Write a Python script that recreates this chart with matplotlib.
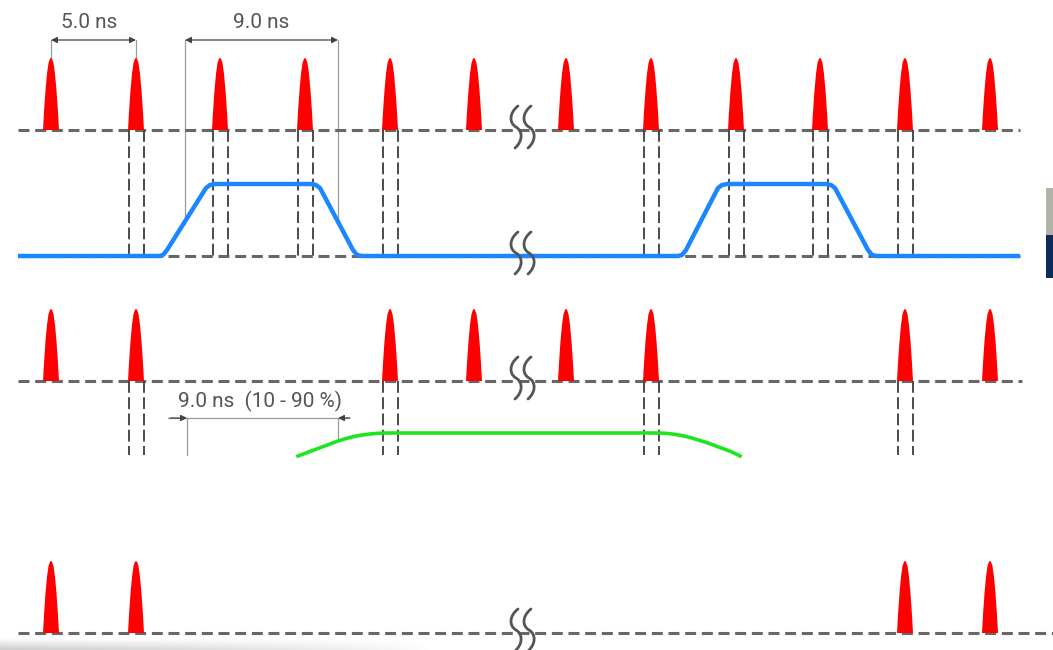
import numpy as np
import matplotlib
matplotlib.use('Agg')
import matplotlib.pyplot as plt
from matplotlib.path import Path
from matplotlib.patches import PathPatch, Rectangle

plt.rcParams['font.family'] = ['DejaVu Sans Condensed', 'Liberation Sans Narrow', 'Roboto', 'DejaVu Sans']
plt.rcParams['lines.scale_dashes'] = False

# pulse train rows (pixel units of the original drawing)
row_base = [130, 256, 381, 633]
pulses_row1 = [51, 136, 220, 305, 390, 474, 566, 651, 736, 820, 905, 990]
pulses_row3 = [51, 136, 390, 474, 566, 651, 905, 990]
pulses_row4 = [51, 136, 905, 990]
pulse_height = 72

# gates (dashed vertical pairs) under the selected pulses
gates_row1 = [136, 220, 305, 390, 651, 736, 820, 905]
gates_row3 = [136, 390, 651, 905]

# blue gate signal
blue_x = [18, 159, 163, 167, 206, 210, 215, 311, 316, 320, 353, 357, 362,
          678, 682, 686, 718, 722, 727, 826, 831, 835, 868, 872, 877, 1020]
blue_y = [256, 256, 255, 250, 188, 185, 184, 184, 185, 188, 250, 255, 256,
          256, 255, 250, 188, 185, 184, 184, 185, 188, 250, 255, 256, 256]

# green (slow) signal, visible part only
green_x = [298, 306, 314, 322, 330, 338, 346, 354, 362, 370, 378, 386,
           660, 668, 676, 684, 692, 700, 708, 716, 724, 732, 740]
green_y = [456, 453, 450, 447, 444, 441, 438.5, 436.5, 435, 434, 433.3, 433,
           433, 433.5, 434.5, 436, 438, 440.5, 443, 446, 449, 452, 456]

break_x = 516
cut_y = 455

# pulse glyph outline (offset, fraction of height)
pulse_dx = [-8, -7, -5.5, -4, -2.5, -1, 0, 1, 2.5, 4, 5.5, 7, 8]
pulse_fr = [0, 0.25, 0.55, 0.78, 0.93, 0.99, 1, 0.99, 0.93, 0.78, 0.55, 0.25, 0]

fig = plt.figure(figsize=(10.53, 6.5), dpi=100)
ax = fig.add_axes([0, 0, 1, 1])
ax.set_xlim(0, 1053)
ax.set_ylim(650, 0)
ax.axis('off')

dash_col = '#6b6666'
gate_col = '#4a4a4a'
ann_col = '#9a9a9a'
txt_col = '#555555'

# baselines
for yb, xe in zip(row_base, [1020, 1020, 1022, 1053]):
    ax.plot([18, xe], [yb, yb], color=dash_col, lw=2.2, dashes=(7.9, 4.1), zorder=2)

def draw_pulses(xs, yb):
    for xc in xs:
        px = [xc + d for d in pulse_dx]
        py = [yb - f * pulse_height for f in pulse_fr]
        ax.fill(px, py, color='#ff0000', lw=0, zorder=4)

draw_pulses(pulses_row1, row_base[0])
draw_pulses(pulses_row3, row_base[2])
draw_pulses(pulses_row4, row_base[3])

for xc in gates_row1:
    for s in (-7.5, 7.5):
        ax.plot([xc + s, xc + s], [row_base[0], row_base[1]], color=gate_col, lw=1.4,
                dashes=(8.5, 3.2), zorder=3)
for xc in gates_row3:
    for s in (-7.5, 7.5):
        ax.plot([xc + s, xc + s], [row_base[2], cut_y], color=gate_col, lw=1.4,
                dashes=(8.5, 3.2), zorder=3)

ax.plot(blue_x, blue_y, color='#1a86ff', lw=3.2, solid_joinstyle='round',
        solid_capstyle='butt', zorder=5)
ax.plot(green_x, green_y, color='#1ee61e', lw=2.6, solid_joinstyle='round', zorder=5)

# axis break marks
def s_mark(xc, yc):
    verts = [(xc + 2, yc - 21), (xc - 7, yc - 14), (xc - 7, yc - 4), (xc, yc),
             (xc + 7, yc + 4), (xc + 7, yc + 14), (xc - 1, yc + 21)]
    codes = [Path.MOVETO] + [Path.CURVE4] * 6
    ax.add_patch(PathPatch(Path(verts, codes), fill=False, ec='#555555', lw=2.0,
                           capstyle='round', zorder=6))

for yb in row_base:
    s_mark(break_x, yb - 3)
    s_mark(break_x + 13, yb - 3)

# dimension annotations
arr = dict(arrowstyle='<|-|>', color='#444444', lw=0.9, mutation_scale=9, shrinkA=0, shrinkB=0)
ax.annotate('', xy=(51, 40), xytext=(136, 40), arrowprops=arr)
ax.annotate('', xy=(185, 40), xytext=(338, 40), arrowprops=arr)
ax.plot([51, 51], [40, 58], color=ann_col, lw=0.9)
ax.plot([136, 136], [40, 58], color=ann_col, lw=0.9)
ax.plot([185, 185], [40, 224], color=ann_col, lw=0.9, zorder=1)
ax.plot([338, 338], [40, 222], color=ann_col, lw=0.9, zorder=1)
ax.text(89, 23, '5.0 ns', ha='center', va='center', fontsize=15, color=txt_col)
ax.text(261, 23, '9.0 ns', ha='center', va='center', fontsize=15, color=txt_col)

one = dict(arrowstyle='-|>', color='#444444', lw=0.9, mutation_scale=9, shrinkA=0, shrinkB=0)
ax.plot([168, 348], [418, 418], color=ann_col, lw=0.9)
ax.annotate('', xy=(187, 418), xytext=(170, 418), arrowprops=one)
ax.annotate('', xy=(338, 418), xytext=(350, 418), arrowprops=one)
ax.plot([187, 187], [418, cut_y], color=ann_col, lw=0.9)
ax.plot([338, 338], [418, 440], color=ann_col, lw=0.9)
ax.text(260, 401, '9.0 ns  (10 - 90 %)', ha='center', va='center', fontsize=15, color=txt_col)

# bits of the surrounding page
ax.add_patch(Rectangle((1046, 188), 7, 47, color='#b1b3a8', lw=0, zorder=7))
ax.add_patch(Rectangle((1046, 235), 7, 43, color='#0b2d55', lw=0, zorder=7))
sh = np.zeros((12, 120, 4))
sh[..., :3] = 0.45
sh[..., 3] = np.linspace(0, 0.35, 12)[:, None] * np.linspace(1, 0, 120)[None, :] ** 0.7
ax.imshow(sh, extent=[0, 430, 650, 638], aspect='auto', zorder=8, interpolation='bilinear')
ax.set_xlim(0, 1053)
ax.set_ylim(650, 0)

fig.savefig('out.png', dpi=100)
